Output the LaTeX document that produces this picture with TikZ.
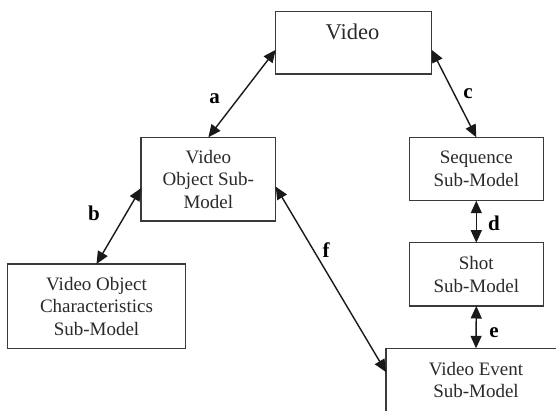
\documentclass[tikz,border=0pt]{standalone}
\usepackage{fontspec}
\setmainfont{Liberation Serif}
\usetikzlibrary{arrows.meta}
\definecolor{ink}{HTML}{2A2A2A}
\definecolor{edge}{HTML}{3A3A3A}
\begin{document}
\begin{tikzpicture}[x=1pt,y=-1pt,
  box/.style={draw=edge, line width=1.1pt, fill=white, rectangle, align=center,
    inner sep=0pt, outer sep=0pt, text=ink, font=\fontsize{19}{22.5}\selectfont},
  link/.style={line width=1.4pt, draw=black!90,
    {Triangle[length=12.5pt,width=11pt]}-{Triangle[length=12.5pt,width=11pt]}},
  lbl/.style={font=\fontsize{21}{24}\selectfont\bfseries, text=black, inner sep=0pt}]
\useasboundingbox (0,0) rectangle (556,411);
\clip (0,0) rectangle (556,411);
\fill[white] (0,0) rectangle (556,411);

\node[box, minimum width=156, minimum height=62.3] (video) at (353.7,42.85) {};
\node[anchor=base, text=ink, font=\fontsize{22.5}{26}\selectfont, inner sep=0pt] (videotxt) at (352.5,39.3) {Video};
\node[box, minimum width=134.7, minimum height=83.7] (vo) at (208.35,179.15) {Video\\Object Sub-\\Model};
\node[box, minimum width=134, minimum height=63.4] (seq) at (476.3,169) {Sequence\\Sub-Model};
\node[box, minimum width=134, minimum height=63.3] (shot) at (476.3,274.35) {Shot\\Sub-Model};
\node[box, minimum width=180, minimum height=63.5] (ve) at (476,380.05) {Video Event\\Sub-Model};
\node[box, minimum width=178.4, minimum height=84.3] (voc) at (96.5,306.15) {Video Object\\Characteristics\\Sub-Model};

\draw[link] (vo.north) -- ([yshift=-7pt]video.west);
\draw[link] ([yshift=-7pt]video.east) -- (seq.north);
\draw[link] ([yshift=-9pt]vo.west) -- (voc.north);
\draw[link] ([yshift=-7.5pt]vo.east) -- ([yshift=8pt]ve.west);
\draw[link] (seq.south) -- (shot.north);
\draw[link] (shot.south) -- (ve.north);

\node[lbl] (la) at (214.5,99) {a};
\node[lbl] (lb) at (94,213.3) {b};
\node[lbl] (lc) at (468,93.3) {c};
\node[lbl] (ld) at (494,223.3) {d};
\node[lbl] (le) at (494,333) {e};
\node[lbl] (lf) at (326,250) {f};
\end{tikzpicture}
\end{document}
